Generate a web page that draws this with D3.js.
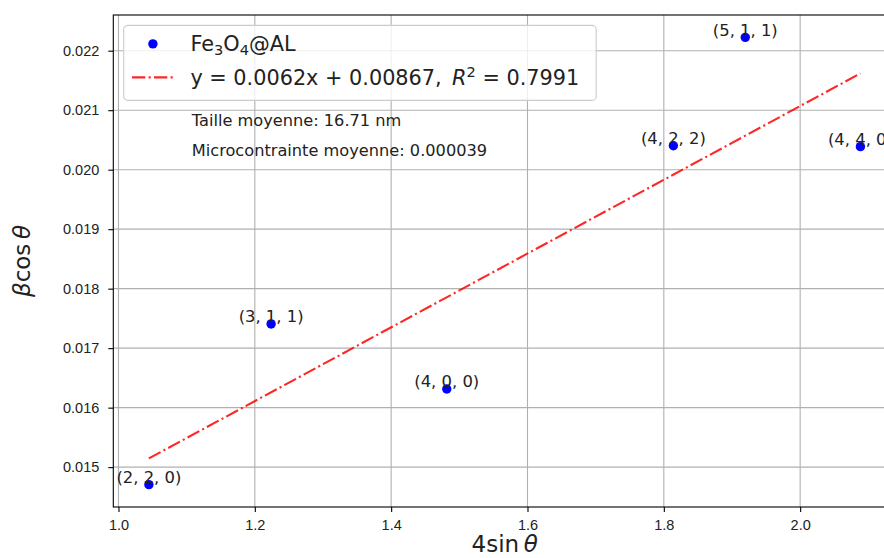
<!DOCTYPE html>
<html lang="fr">
<head>
<meta charset="UTF-8">
<title>Williamson-Hall Fe3O4@AL</title>
<script src="https://d3js.org/d3.v7.min.js"></script>
<style>
  body { margin: 0; background: #fff; }
  svg { display: block; font-family: 'DejaVu Sans', sans-serif; }
  .grid line { stroke: #b0b0b0; stroke-width: 1.1; }
  .tick-label { font-size: 14.5px; fill: #222; }
</style>
</head>
<body>
<svg id="chart" width="884" height="558"></svg>
<script>
// plans (hkl) et valeurs
const planes = ["(2, 2, 0)", "(3, 1, 1)", "(4, 0, 0)", "(4, 2, 2)", "(5, 1, 1)", "(4, 4, 0)"];
const sinValues = [1.0446, 1.2239, 1.4816, 1.8140, 1.9195, 2.0884];
const betaCosValues = [0.014706, 0.017407, 0.016314, 0.020403, 0.022224, 0.020387];
const xTicks = [1.0, 1.2, 1.4, 1.6, 1.8, 2.0];
const yTicks = [0.015, 0.016, 0.017, 0.018, 0.019, 0.020, 0.021, 0.022];
const fitSlope = 0.0062;
const fitIntercept = 0.00867;
const infoLines = ["Taille moyenne: 16.71 nm", "Microcontrainte moyenne: 0.000039"];

const svg = d3.select('#chart');
const margin = { left: 113.3, top: 15 };
const width = 782.7, height = 492;

// marges de 5% comme matplotlib
function padded(vals) {
  const [a, b] = d3.extent(vals);
  const p = (b - a) * 0.05;
  return [a - p, b + p];
}

const x = d3.scaleLinear().domain(padded(sinValues)).range([0, width]);
const y = d3.scaleLinear().domain(padded(betaCosValues)).range([height, 0]);

const g = svg.append('g').attr('transform', `translate(${margin.left},${margin.top})`);

// grille
const grid = g.append('g').attr('class', 'grid');
grid.selectAll('.gx').data(xTicks).enter().append('line')
  .attr('x1', d => x(d)).attr('x2', d => x(d)).attr('y1', 0).attr('y2', height);
grid.selectAll('.gy').data(yTicks).enter().append('line')
  .attr('x1', 0).attr('x2', width).attr('y1', d => y(d)).attr('y2', d => y(d));

// axes
const xAxis = g.append('g').attr('transform', `translate(0,${height})`)
  .call(d3.axisBottom(x).tickValues(xTicks).tickFormat(d3.format('.1f')).tickSize(5).tickPadding(5));
const yAxis = g.append('g')
  .call(d3.axisLeft(y).tickValues(yTicks).tickFormat(d3.format('.3f')).tickSize(5).tickPadding(9));
[xAxis, yAxis].forEach(ax => {
  ax.select('.domain').remove();
  ax.selectAll('.tick line').attr('stroke', '#000').attr('stroke-width', 1.1);
  ax.selectAll('.tick text').attr('class', 'tick-label').attr('font-family', null).attr('font-size', null);
});
xAxis.selectAll('.tick text').attr('dy', '0.9em');

// cadre
g.append('rect').attr('x', 0).attr('y', 0).attr('width', width).attr('height', height)
  .attr('fill', 'none').attr('stroke', '#000').attr('stroke-width', 1.1);

// droite de régression
const [xa, xb] = d3.extent(sinValues);
const fitLine = [xa, xb].map(v => [v, fitSlope * v + fitIntercept]);
g.append('path')
  .attr('d', d3.line().x(d => x(d[0])).y(d => y(d[1]))(fitLine))
  .attr('fill', 'none')
  .attr('stroke', 'rgba(255,0,0,0.85)')
  .attr('stroke-width', 2.1)
  .attr('stroke-dasharray', '13.3 3.3 2.1 3.3');

// points
const pts = sinValues.map((v, i) => ({ x: v, y: betaCosValues[i], label: planes[i] }));
g.selectAll('circle').data(pts).enter().append('circle')
  .attr('cx', d => x(d.x)).attr('cy', d => y(d.y)).attr('r', 4.7)
  .attr('fill', '#0000ff');

g.selectAll('.plabel').data(pts).enter().append('text')
  .attr('class', 'plabel')
  .attr('x', d => x(d.x)).attr('y', d => y(d.y) - 1.5)
  .attr('text-anchor', 'middle')
  .attr('font-size', '16.4px').attr('fill', '#222')
  .text(d => d.label);

// texte riche (indices, exposants, italique) ; dy en px
function rich(sel, parts, size) {
  parts.forEach(p => {
    const t = sel.append('tspan').text(p.t);
    if (p.it) t.attr('font-style', 'italic');
    if (p.small) t.attr('font-size', (size * 0.7) + 'px');
    if (p.dy) t.attr('dy', p.dy * size);
  });
}

// légende
const fs = 20.8;
const lg = g.append('g').attr('transform', `translate(${10.4},${10.4})`);
lg.append('rect').attr('width', 472.5).attr('height', 75)
  .attr('rx', 4).attr('fill', 'rgba(255,255,255,0.8)')
  .attr('stroke', '#cccccc').attr('stroke-width', 1.1);
lg.append('circle').attr('cx', 29.2).attr('cy', 18.5).attr('r', 4.7).attr('fill', '#0000ff');
lg.append('line').attr('x1', 8.3).attr('x2', 50).attr('y1', 52).attr('y2', 52)
  .attr('stroke', 'rgba(255,0,0,0.85)').attr('stroke-width', 2.1)
  .attr('stroke-dasharray', '13.3 3.3 2.1 3.3');
const t1 = lg.append('text').attr('x', 66.7).attr('y', 25.5).attr('font-size', fs + 'px').attr('fill', '#222');
rich(t1, [{ t: 'Fe' }, { t: '3', small: true, dy: 0.2 }, { t: 'O', dy: -0.2 },
  { t: '4', small: true, dy: 0.2 }, { t: '@AL', dy: -0.2 }], fs);
const t2 = lg.append('text').attr('x', 66.7).attr('y', 59.5).attr('font-size', fs + 'px').attr('fill', '#222');
rich(t2, [{ t: `y = ${fitSlope}x + ${fitIntercept},\u2002` }, { t: 'R', it: true },
  { t: '2', small: true, dy: -0.4 }, { t: ' = 0.7991', dy: 0.4 }], fs);

// informations
g.selectAll('.info').data(infoLines).enter().append('text')
  .attr('class', 'info')
  .attr('x', 78.5).attr('y', (d, i) => 111 + i * 30)
  .attr('font-size', '16.2px').attr('fill', '#222')
  .text(d => d);

// titres des axes
const xl = svg.append('text').attr('x', margin.left + width / 2).attr('y', 552)
  .attr('text-anchor', 'middle').attr('font-size', '23px').attr('fill', '#222');
rich(xl, [{ t: '4sin\u2009' }, { t: 'θ', it: true }], 23);
const yl = svg.append('text').attr('transform', `translate(30,${margin.top + height / 2}) rotate(-90)`)
  .attr('text-anchor', 'middle').attr('font-size', '23px').attr('fill', '#222');
rich(yl, [{ t: 'β', it: true }, { t: 'cos\u2009' }, { t: 'θ', it: true }], 23);
</script>
</body>
</html>
